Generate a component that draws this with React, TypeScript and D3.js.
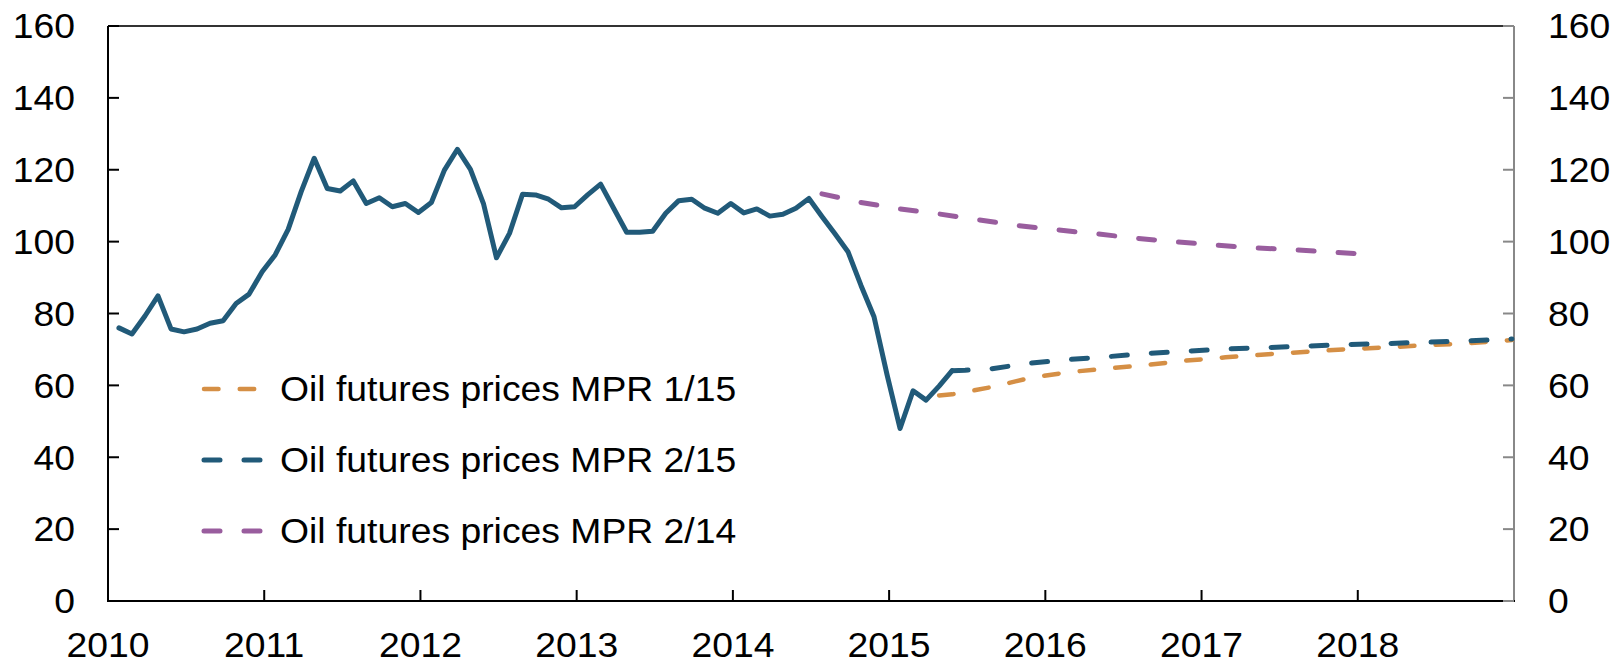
import React from "react";
import * as d3 from "d3";

// ---------- data ----------
const spotStart = "2010-01";
const spotValues = [
  76.0, 74.3, 79.3, 84.9, 75.7, 74.9, 75.7, 77.3, 78.0, 82.8, 85.4, 91.6,
  96.3, 103.4, 113.9, 123.2, 114.8, 114.1, 116.9, 110.6, 112.2, 109.7, 110.6, 108.1,
  110.9, 119.9, 125.7, 120.1, 110.6, 95.5, 102.3, 113.2, 113.0, 111.8, 109.4, 109.7,
  113.0, 116.0, 109.3, 102.6, 102.6, 102.9, 107.9, 111.4, 111.8, 109.3, 107.9, 110.6,
  108.0, 109.1, 107.1, 107.6, 109.3, 112.0, 107.0, 102.2, 97.2, 87.8, 79.1, 63.0,
  48.0, 58.5, 55.9, 59.8, 64.1,
];

const mpr115Months = [
  "2015-04", "2015-05", "2015-08", "2015-11", "2016-02", "2016-05", "2016-08", "2016-11",
  "2017-02", "2017-05", "2017-08", "2017-11", "2018-02", "2018-05", "2018-08", "2018-12",
];
const mpr115Values = [
  57.2, 57.5, 59.5, 62.1, 63.7, 64.7, 65.7, 66.9, 67.8, 68.6, 69.3, 70.0, 70.5, 71.1, 71.6, 72.6,
];

const mpr215Months = [
  "2015-05", "2015-06", "2015-08", "2015-11", "2016-02", "2016-05", "2016-08", "2016-11",
  "2017-02", "2017-05", "2017-08", "2017-11", "2018-02", "2018-05", "2018-08", "2018-12",
];
const mpr215Values = [
  64.1, 64.2, 64.6, 66.2, 67.2, 68.0, 68.9, 69.5, 70.1, 70.5, 70.9, 71.3, 71.6, 71.95, 72.3, 72.9,
];

const mpr214Months = [
  "2014-07", "2014-10", "2015-01", "2015-04", "2015-07", "2015-10", "2016-01", "2016-04",
  "2016-07", "2016-10", "2017-01", "2017-04", "2017-07", "2017-10", "2017-12",
];
const mpr214Values = [
  113.3, 110.9, 109.1, 107.7, 106.1, 104.5, 103.3, 102.2, 101.0, 100.0, 99.1, 98.3, 97.8, 97.1, 96.7,
];

const yTicks = [0, 20, 40, 60, 80, 100, 120, 140, 160];
const xTickYears = [2010, 2011, 2012, 2013, 2014, 2015, 2016, 2017, 2018];

const legendLabels = [
  "Oil futures prices MPR 1/15",
  "Oil futures prices MPR 2/15",
  "Oil futures prices MPR 2/14",
];

// ---------- styles ----------
const W = 1614;
const H = 659;
const M = { left: 108, right: 1514, top: 26, bottom: 601 };
const FONT = "'Liberation Sans', Arial, Helvetica, sans-serif";
const FS = 36;
const SX = 1.037; // horizontal stretch of text seen in the reference
const BLUE = "#215a79";
const ORANGE = "#d58f45";
const PURPLE = "#995d9e";

const monthFrac = (m: string) => {
  const [y, mo] = m.split("-").map(Number);
  return y + (mo - 1 + 0.84) / 12;
};

function T(props: {
  x: number;
  y: number;
  anchor?: "start" | "middle" | "end";
  baseline?: string;
  children: React.ReactNode;
}) {
  return (
    <text
      transform={`translate(${props.x},${props.y}) scale(${SX},1)`}
      textAnchor={props.anchor || "start"}
      dominantBaseline={props.baseline as any}
      fontSize={FS}
      fill="#000"
    >
      {props.children}
    </text>
  );
}

export default function App() {
  const x = d3.scaleLinear().domain([2010, 2019]).range([M.left, M.right]);
  const y = d3.scaleLinear().domain([0, 160]).range([M.bottom, M.top]);

  const startFrac = monthFrac(spotStart);
  const spot = spotValues.map((v, i) => [startFrac + i / 12, v] as [number, number]);
  const s115 = mpr115Months.map((m, i) => [monthFrac(m), mpr115Values[i]] as [number, number]);
  const s215 = mpr215Months.map((m, i) => [monthFrac(m), mpr215Values[i]] as [number, number]);
  const s214 = mpr214Months.map((m, i) => [monthFrac(m), mpr214Values[i]] as [number, number]);

  const line = d3
    .line<[number, number]>()
    .x((d) => x(d[0]))
    .y((d) => y(d[1]));

  const series = [
    { data: s115, color: ORANGE, width: 4.5, dash: "14.5 21.2" },
    { data: s215, color: BLUE, width: 5, dash: "16 24" },
    { data: s214, color: PURPLE, width: 5, dash: "16 24" },
  ];

  const legendY = [389, 460, 531];

  return (
    <svg
      width={W}
      height={H}
      style={{ position: "absolute", left: 0, top: 0, background: "#fff" }}
      fontFamily={FONT}
    >
      <rect x={0} y={0} width={W} height={H} fill="#fff" />

      {/* frame */}
      <line x1={M.left} x2={M.right} y1={M.top} y2={M.top} stroke="#333" strokeWidth={2} />
      <line x1={M.right} x2={M.right} y1={M.top} y2={M.bottom} stroke="#888" strokeWidth={2} />
      <line x1={M.left} x2={M.left} y1={M.top} y2={M.bottom + 1} stroke="#000" strokeWidth={2} />
      <line x1={M.left - 1} x2={M.right + 1} y1={M.bottom} y2={M.bottom} stroke="#000" strokeWidth={2} />

      {/* y ticks & labels */}
      {yTicks.map((t) => (
        <g key={t}>
          <line x1={M.left} x2={M.left + 11} y1={y(t)} y2={y(t)} stroke="#000" strokeWidth={2} />
          <line x1={M.right - 11} x2={M.right} y1={y(t)} y2={y(t)} stroke="#888" strokeWidth={2} />
          <T x={75} y={y(t)} anchor="end" baseline="central">
            {t}
          </T>
          <T x={1548} y={y(t)} anchor="start" baseline="central">
            {t}
          </T>
        </g>
      ))}

      {/* x ticks & labels */}
      {xTickYears.map((yr) => (
        <g key={yr}>
          {yr > 2010 && (
            <line x1={x(yr)} x2={x(yr)} y1={M.bottom} y2={M.bottom - 11} stroke="#000" strokeWidth={2} />
          )}
          <T x={x(yr)} y={657} anchor="middle">
            {yr}
          </T>
        </g>
      ))}

      {/* spot line */}
      <path
        d={line(spot) || ""}
        fill="none"
        stroke={BLUE}
        strokeWidth={5}
        strokeLinejoin="round"
        strokeLinecap="round"
      />

      {/* futures */}
      {series.map((s, i) => (
        <path
          key={i}
          d={line(s.data) || ""}
          fill="none"
          stroke={s.color}
          strokeWidth={s.width}
          strokeDasharray={s.dash}
          strokeLinecap="round"
          strokeLinejoin="round"
        />
      ))}

      {/* legend */}
      {series.map((s, i) => (
        <g key={"lg" + i}>
          <line
            x1={204}
            x2={262}
            y1={legendY[i]}
            y2={legendY[i]}
            stroke={s.color}
            strokeWidth={s.width}
            strokeDasharray={s.dash}
            strokeLinecap="round"
          />
          <T x={280} y={legendY[i]} baseline="central">
            {legendLabels[i]}
          </T>
        </g>
      ))}
    </svg>
  );
}
